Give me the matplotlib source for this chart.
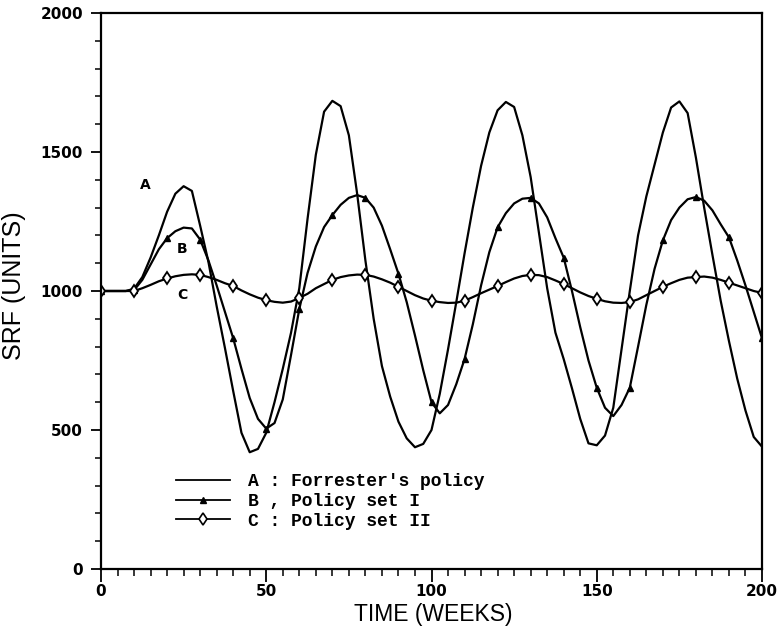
import numpy as np
import matplotlib
matplotlib.use("Agg")
import matplotlib.pyplot as plt
from matplotlib.lines import Line2D

# time axis in weeks, one reading every 2.5 weeks
weeks = np.arange(0, 200.1, 2.5)

# curve A : Forrester's policy
srf_a = [1000, 1000, 1000, 1000, 1008, 1050, 1120, 1200, 1285, 1350,
         1377, 1360, 1235, 1105, 945, 795, 640, 490, 420, 432,
         490, 600, 720, 850, 1010, 1260, 1490, 1645, 1684, 1665,
         1560, 1350, 1110, 900, 730, 620, 530, 470, 438, 450,
         500, 630, 790, 960, 1135, 1300, 1450, 1570, 1650, 1680,
         1662, 1560, 1410, 1210, 1010, 850, 755, 650, 540, 452,
         445, 480, 580, 790, 1000, 1200, 1340, 1455, 1570, 1660,
         1682, 1640, 1480, 1300, 1130, 965, 820, 685, 570, 475,
         440]

# curve B : policy set I
srf_b = [1000, 1000, 1000, 1000, 1003, 1040, 1095, 1150, 1190, 1215,
         1228, 1225, 1185, 1110, 1020, 925, 830, 720, 615, 540,
         505, 525, 610, 770, 935, 1065, 1160, 1230, 1273, 1310,
         1335, 1345, 1335, 1300, 1235, 1150, 1062, 960, 840, 715,
         600, 560, 590, 665, 755, 880, 1020, 1140, 1229, 1280,
         1315, 1332, 1335, 1315, 1265, 1190, 1120, 1000, 870, 750,
         652, 580, 550, 590, 652, 800, 950, 1080, 1182, 1255,
         1300, 1330, 1338, 1325, 1290, 1240, 1193, 1110, 1020, 925,
         830]

# curve C : policy set II
srf_c = [1000, 1000, 1000, 1000, 1000, 1010, 1022, 1035, 1045, 1053,
         1058, 1060, 1058, 1050, 1040, 1028, 1018, 1002, 988, 976,
         967, 961, 958, 962, 975, 990, 1010, 1025, 1040, 1050,
         1056, 1059, 1058, 1052, 1042, 1030, 1015, 1000, 985, 973,
         965, 960, 957, 958, 965, 978, 992, 1005, 1018, 1032,
         1045, 1054, 1058, 1057, 1050, 1038, 1025, 1010, 995, 982,
         972, 963, 958, 957, 960, 970, 985, 1000, 1015, 1028,
         1040, 1048, 1050, 1052, 1048, 1040, 1030, 1020, 1010, 1000,
         993]

legend_labels = ["A : Forrester's policy", "B , Policy set I", "C : Policy set II"]
curve_tags = ["A", "B", "C"]
tag_x = [13.5, 24.5, 24.5]
tag_y = [1380, 1150, 985]

fig = plt.figure(figsize=(7.78, 6.35), dpi=100)
ax = fig.add_axes([101 / 778, 1 - 569 / 635, 661 / 778, 556 / 635])

lw = 1.6
ax.plot(weeks, srf_a, color="black", lw=lw, solid_joinstyle="round")
ax.plot(weeks, srf_b, color="black", lw=lw, marker="^", ms=5,
        markevery=4, mfc="black", mec="black", solid_joinstyle="round")
ax.plot(weeks, srf_c, color="black", lw=lw, marker="d", ms=6.5,
        markevery=4, mfc="white", mec="black", mew=1.3, solid_joinstyle="round")

for t, x, y in zip(curve_tags, tag_x, tag_y):
    ax.text(x, y, t, fontsize=10, fontweight="bold", ha="center", va="center")

ax.set_xlim(0, 200)
ax.set_ylim(0, 2000)
ax.set_xticks(np.arange(0, 201, 50))
ax.set_xticks(np.arange(0, 201, 5), minor=True)
ax.set_yticks(np.arange(0, 2001, 500))
ax.set_yticks(np.arange(0, 2001, 100), minor=True)
ax.tick_params(axis="x", which="major", direction="out", length=9, width=1.3, pad=2)
ax.tick_params(axis="x", which="minor", direction="out", length=5, width=1.1)
ax.tick_params(axis="y", which="major", direction="out", length=7, width=1.3, pad=6)
ax.tick_params(axis="y", which="minor", direction="out", length=4, width=1.1)
for lab in ax.get_xticklabels() + ax.get_yticklabels():
    lab.set_fontweight("bold")
    lab.set_fontsize(11)
for s in ax.spines.values():
    s.set_linewidth(1.6)

ax.set_xlabel("TIME (WEEKS)", fontsize=16.5, family="Liberation Sans")
ax.set_ylabel("SRF (UNITS)", fontsize=18, family="Liberation Sans")
ax.xaxis.set_label_coords(0.502, -0.062)
ax.yaxis.set_label_coords(-0.113, 0.51)

handles = [
    Line2D([], [], color="black", lw=1.3),
    Line2D([], [], color="black", lw=1.3, marker="^", ms=5),
    Line2D([], [], color="black", lw=1.3, marker="d", ms=6.5, mfc="white", mew=1.2),
]
ax.legend(handles, legend_labels, loc="upper left", bbox_to_anchor=(0.113, 0.172),
          frameon=False, borderpad=0, borderaxespad=0, handlelength=3.0,
          handletextpad=1.0, labelspacing=0.15, numpoints=1,
          prop={"family": "Liberation Mono", "weight": "bold", "size": 13})

fig.savefig("out.png", dpi=100)
